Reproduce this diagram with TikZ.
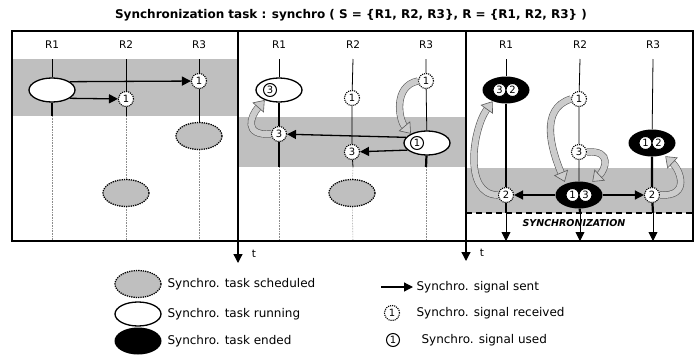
\documentclass[tikz,border=0pt]{standalone}
\usepackage{fontspec}
\setmainfont{DejaVu Sans}
\usetikzlibrary{shapes.geometric,arrows.meta,positioning}

\begin{document}
\begin{tikzpicture}[x=1pt,y=-1pt,
  every node/.style={font=\fontsize{10.5}{12}\selectfont},
  band/.style={fill=black!25},
  sched/.style={ellipse,draw,densely dotted,line width=1.3pt,fill=black!25,minimum width=46pt,minimum height=27pt},
  run/.style={ellipse,draw,line width=1.3pt,fill=white,minimum width=46pt,minimum height=24pt},
  ended/.style={ellipse,fill=black,minimum width=47pt,minimum height=27pt},
  recv/.style={circle,draw,densely dotted,line width=1.1pt,fill=white,minimum size=15pt,inner sep=0pt,font=\fontsize{10}{10}\selectfont},
  used/.style={circle,draw,line width=1pt,fill=white,minimum size=13pt,inner sep=0pt,font=\fontsize{10}{10}\selectfont},
  sig/.style={line width=1.3pt,-{Triangle[length=9pt,width=9pt]}},
  hollow/.style={draw=black!65,line width=0.6pt,double=black!20,double distance=6pt,-{Triangle[length=10pt,width=15pt,fill=black!20]}},
  life/.style={line width=0.8pt},
  busy/.style={line width=2.2pt},
  idle/.style={densely dotted,black!45,line width=0.6pt},
  legend/.style={right,font=\fontsize{12}{14}\selectfont}]

\useasboundingbox (0,0) rectangle (697,354);

\node (title) at (351,15) {\fontsize{12}{14}\selectfont\bfseries Synchronization task : synchro ( S = \{R1, R2, R3\}, R = \{R1, R2, R3\} )};

\fill[band] (12,59) rectangle (238,116);
\fill[band] (238,117) rectangle (466,167);
\fill[band] (466,168) rectangle (693,213);

\foreach \p/\o/\b in {1/0/116,2/227/167,3/454/213}
  \foreach \r/\x in {1/52,2/126,3/199} {
    \node (lab\p\r) at (\x+\o,45) {R\r};
    \coordinate (top\p\r) at (\x+\o,59);
    \coordinate (end\p\r) at (\x+\o,\b);
    \coordinate (bot\p\r) at (\x+\o,241);
  }

\node[run] (a11) at (52,90) {};
\node[recv] (s12) at (126,99) {1};
\node[recv] (s13) at (199,81) {1};
\node[sched] (w13) at (199,136) {};
\node[sched] (w12) at (126,193) {};
\draw[life] (top11) -- (a11);
\draw[busy] (a11) -- (end11);
\draw[life] (top12) -- (s12) -- (end12);
\draw[life] (top13) -- (s13) -- (w13);
\draw[idle] (end11) -- (bot11);
\draw[idle] (end12) -- (w12) -- (bot12);
\draw[idle] (w13) -- (bot13);
\draw[sig] (a11.25) -- (s13);
\draw[sig] (a11.-25) -- (s12);

\node[run] (a21) at (279,90) {};
\node[used] (u21) at (270,90) {3};
\node[recv] (s21) at (279,134) {3};
\node[recv] (s22a) at (352,98) {1};
\node[recv] (s22b) at (352,152) {3};
\node[recv] (s23) at (426,81) {1};
\node[run] (a23) at (427,143) {};
\node[used] (u23) at (417,143) {1};
\node[sched] (w22) at (352,193) {};
\draw[life] (top21) -- (a21);
\draw[busy] (a21) -- (s21) -- (end21);
\draw[life] (top22) -- (s22a) -- (s22b) -- (end22);
\draw[life] (top23) -- (s23) -- (a23);
\draw[busy] (a23) -- (end23);
\draw[idle] (end21) -- (bot21);
\draw[idle] (end22) -- (w22) -- (bot22);
\draw[idle] (end23) -- (bot23);
\draw[sig] (a23.165) -- (s21);
\draw[sig] (a23.200) -- (s22b);
\draw[hollow] (s21.west) .. controls +(-28,2) and +(-14,16) .. (a21.215);
\draw[hollow] (s23.west) .. controls +(-25,5) and +(-12,-14) .. (a23.150);

\node[ended] (a31) at (506,90) {};
\node[used] (u31a) at (499.5,90) {3};
\node[used] (u31b) at (512.5,90) {2};
\node[recv] (s31) at (506,195) {2};
\node[recv] (s32a) at (579,99) {1};
\node[recv] (s32b) at (579,152) {3};
\node[ended] (a32) at (579,195) {};
\node[used] (u32a) at (572.5,195) {1};
\node[used] (u32b) at (585.5,195) {3};
\node[ended] (a33) at (652,143) {};
\node[used] (u33a) at (645.5,143) {1};
\node[used] (u33b) at (658.5,143) {2};
\node[recv] (s33) at (652,195) {2};
\draw[life] (top31) -- (a31);
\draw[busy] (a31) -- (s31) -- (end31);
\draw[life] (top32) -- (s32a) -- (s32b) -- (a32);
\draw[busy] (a32) -- (end32);
\draw[life] (top33) -- (a33);
\draw[busy] (a33) -- (s33) -- (end33);
\draw[sig] (a32) -- (s31);
\draw[sig] (a32) -- (s33);
\foreach \r in {1,2,3}
  \draw[sig,line width=0.9pt] (end3\r) -- (bot3\r);
\draw[hollow] (s31.west) .. controls +(-35,0) and +(-20,28) .. (a31.220);
\draw[hollow,shorten >=2pt] (s32a.west) .. controls +(-32,10) and +(-14,-34) .. (a32.140);
\draw[hollow,shorten >=2pt] (s32b.east) .. controls +(26,-2) and +(14,-13) .. (a32.45);
\draw[hollow,shorten >=2pt] (s33.east) .. controls +(31,2) and +(16,15) .. (a33.-45);
\draw[line width=1.6pt,dash pattern=on 6pt off 4pt] (466,213) -- (693,213);
\node (sync) at (574,223) {\fontsize{9.5}{10}\selectfont\bfseries\itshape SYNCHRONIZATION};

\draw[line width=1.6pt] (12,31) rectangle (693,241) (238,31) -- (238,241) (466,31) -- (466,241);
\coordinate (t1a) at (238,241);
\coordinate (t1b) at (238,263);
\coordinate (t2a) at (466,241);
\coordinate (t2b) at (466,261);
\draw[sig] (t1a) -- (t1b);
\draw[sig] (t2a) -- (t2b);
\node (tl1) at (254,254) {t};
\node (tl2) at (482,253) {t};

\node[sched] (k1) at (138,284) {};
\node[run] (k2) at (138,314) {};
\node[ended] (k3) at (138,341) {};
\node[legend] (k1t) at (164,284) {Synchro. task scheduled};
\node[legend] (k2t) at (164,314) {Synchro. task running};
\node[legend] (k3t) at (164,341) {Synchro. task ended};
\coordinate (k4) at (381,287);
\node[legend] (k4t) at (413,287) {Synchro. signal sent};
\node[recv] (k5) at (392,313) {1};
\node[legend] (k5t) at (413,313) {Synchro. signal received};
\node[used] (k6) at (393,340) {1};
\node[legend] (k6t) at (418,340) {Synchro. signal used};
\draw[sig] (k4) -- (k4t);

\end{tikzpicture}
\end{document}
